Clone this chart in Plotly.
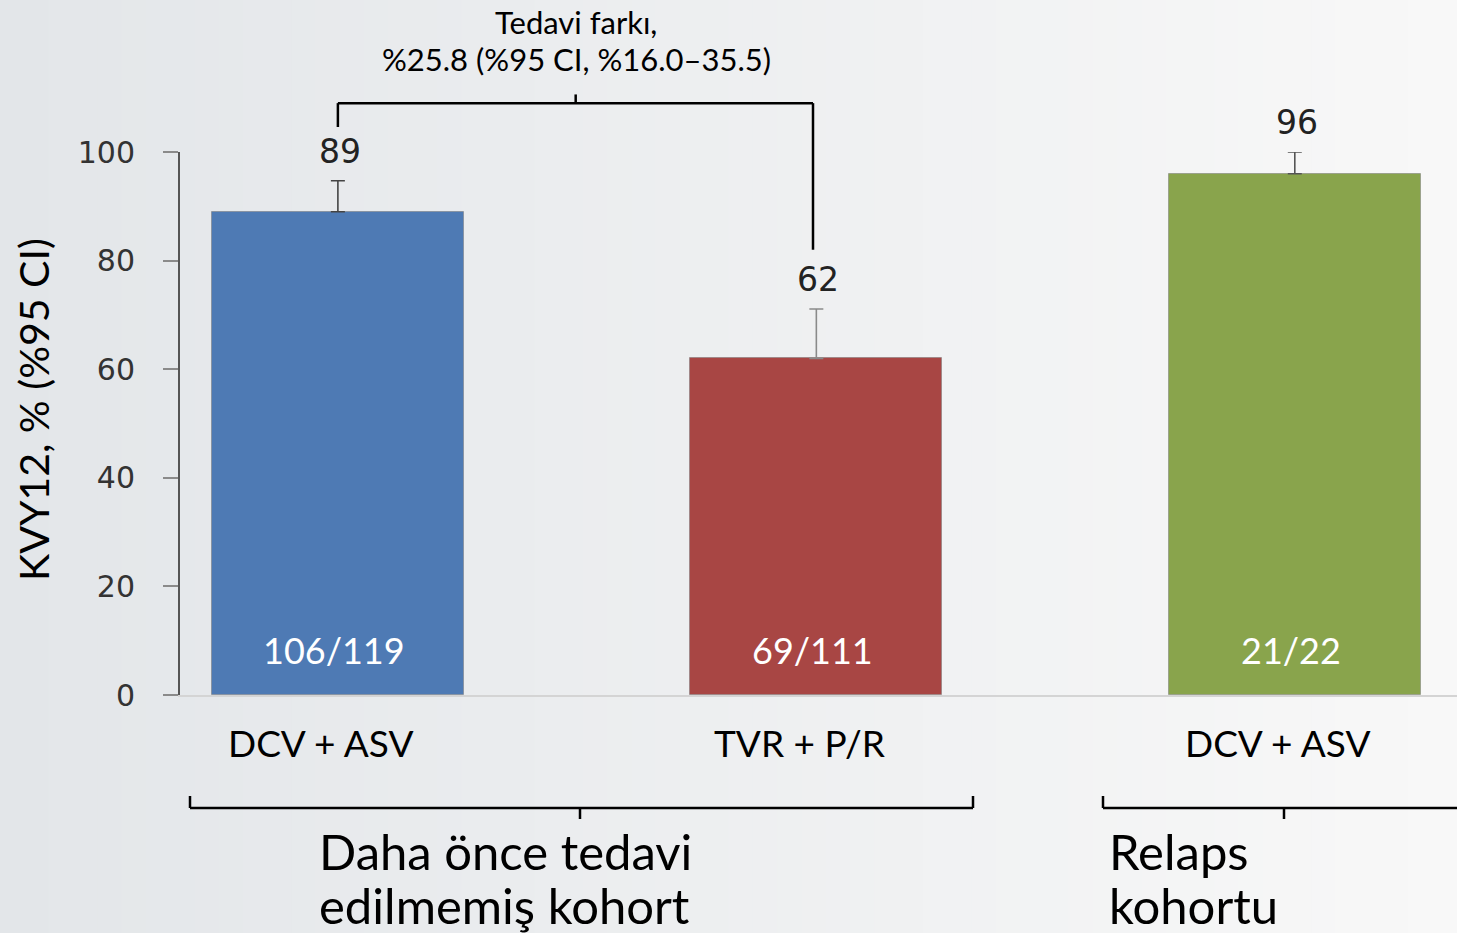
import plotly.graph_objects as go

# ---------------- data ----------------
groups = ["DCV + ASV", "TVR + P/R", "DCV + ASV"]
svr12 = [89, 62, 96]
ci_upper = [94.7, 71.1, 100.0]
counts = ["106/119", "69/111", "21/22"]
bar_colors = ["#4E7AB4", "#A84644", "#89A44C"]
err_colors = ["#444444", "#8a8a8a", "#555555"]
y_ticks = [0, 20, 40, 60, 80, 100]
diff_title = ["Tedavi farkı,", "%25.8 (%95 CI, %16.0–35.5)"]
cohorts = [["Daha önce tedavi", "edilmemiş kohort"], ["Relaps", "kohortu"]]

W, H = 1457, 933
L, R, T, B = 180, 0, 152, 238
X_RANGE = [-0.330, 2.339]
Y_RANGE = [0, 100]
PW, PH = W - L - R, H - T - B


def px(xpix):
    return (xpix - L) / PW


def py(ypix):
    return (H - B - ypix) / PH


def dx(x):
    return (x - X_RANGE[0]) / (X_RANGE[1] - X_RANGE[0])


def dy(y):
    return (y - Y_RANGE[0]) / (Y_RANGE[1] - Y_RANGE[0])


xpos = list(range(len(svr12)))
fig = go.Figure()

for i in xpos:
    fig.add_trace(go.Bar(
        x=[i], y=[svr12[i]], width=0.527,
        marker=dict(color=bar_colors[i], line=dict(color="rgba(120,120,120,0.5)", width=1)),
        error_y=dict(type="data", symmetric=False,
                     array=[ci_upper[i] - svr12[i]], arrayminus=[0],
                     color=err_colors[i], thickness=1.6, width=7),
        showlegend=False, hoverinfo="skip",
    ))

shapes = []
# gradient background
n = 60
c0, c1 = (227, 230, 233), (248, 248, 248)
for k in range(n):
    t = k / (n - 1)
    col = tuple(round(c0[j] + (c1[j] - c0[j]) * t) for j in range(3))
    shapes.append(dict(type="rect", xref="paper", yref="paper", layer="below",
                       x0=px(k * W / n), x1=px((k + 1) * W / n + 1),
                       y0=py(H), y1=py(0), line=dict(width=0),
                       fillcolor="rgb(%d,%d,%d)" % col))

line_style = dict(color="black", width=2.5)
# top comparison bracket
ytop = dy(109.0)
shapes += [
    dict(type="line", xref="paper", yref="paper", x0=dx(0), x1=dx(0.993), y0=ytop, y1=ytop, line=line_style),
    dict(type="line", xref="paper", yref="paper", x0=dx(0), x1=dx(0), y0=ytop, y1=dy(104.6), line=line_style),
    dict(type="line", xref="paper", yref="paper", x0=dx(0.993), x1=dx(0.993), y0=ytop, y1=dy(82.0), line=line_style),
    dict(type="line", xref="paper", yref="paper", x0=dx(0.497), x1=dx(0.497), y0=ytop, y1=dy(110.6), line=line_style),
]
# bottom cohort brackets
yb = py(808)
for (a, b_, c) in [(190, 973, 580), (1103, 1460, 1284)]:
    shapes.append(dict(type="line", xref="paper", yref="paper", x0=px(a), x1=px(b_), y0=yb, y1=yb, line=line_style))
    shapes.append(dict(type="line", xref="paper", yref="paper", x0=px(a), x1=px(a), y0=yb, y1=py(796), line=line_style))
    shapes.append(dict(type="line", xref="paper", yref="paper", x0=px(c), x1=px(c), y0=yb, y1=py(819), line=line_style))
    if b_ < W:
        shapes.append(dict(type="line", xref="paper", yref="paper", x0=px(b_), x1=px(b_), y0=yb, y1=py(796), line=line_style))

ann = []
main_font = "Lato, 'Noto Sans', sans-serif"
num_font = "'DejaVu Sans', Verdana, sans-serif"
for i in xpos:
    ann.append(dict(x=i, y=ci_upper[i], xref="x", yref="y", text=str(svr12[i]),
                    showarrow=False, yanchor="bottom", yshift=8, xshift=2,
                    font=dict(family=num_font, size=33, color="#222222")))
    ann.append(dict(x=i, y=0, xref="x", yref="y", text=counts[i],
                    showarrow=False, yanchor="middle", yshift=45, xshift=-4,
                    font=dict(family=main_font, size=36, color="white")))
    ann.append(dict(x=i, y=py(742), xref="x", yref="paper", text=groups[i],
                    showarrow=False, yanchor="middle", xshift=-17,
                    font=dict(family=main_font, size=37, color="black")))

for k, line in enumerate(diff_title):
    ann.append(dict(x=px(576), y=py(22 + 37 * k), xref="paper", yref="paper", text=line,
                    showarrow=False, yanchor="middle", xanchor="center",
                    font=dict(family=main_font, size=31, color="black")))

for (xl, lines) in [(317, cohorts[0]), (1107, cohorts[1])]:
    for k, line in enumerate(lines):
        ann.append(dict(x=px(xl), y=py(851 + 54 * k), xref="paper", yref="paper", text=line,
                        showarrow=False, yanchor="middle", xanchor="left",
                        font=dict(family=main_font, size=49, color="black")))

ann.append(dict(x=px(33), y=py(410), xref="paper", yref="paper", text="KVY12, % (%95 CI)",
                showarrow=False, textangle=-90, xanchor="center", yanchor="middle",
                font=dict(family=main_font, size=41, color="black")))

fig.update_layout(
    width=W, height=H, autosize=False,
    margin=dict(l=L, r=R, t=T, b=B, pad=0),
    paper_bgcolor="rgba(0,0,0,0)", plot_bgcolor="rgba(0,0,0,0)",
    barmode="overlay", bargap=0,
    shapes=shapes, annotations=ann,
    xaxis=dict(range=X_RANGE, showticklabels=False, ticks="", showgrid=False,
               zeroline=False, showline=True, linecolor="#d4d4d4", linewidth=2),
    yaxis=dict(range=Y_RANGE, tickvals=y_ticks, ticks="outside", ticklen=15,
               tickcolor="#8a8a8a", tickwidth=1.5, showgrid=False, zeroline=False,
               showline=True, linecolor="#555555", linewidth=2,
               ticklabelstandoff=22,
               tickfont=dict(family=num_font, size=30, color="#333333")),
)

fig.write_html("out.html", config={"displayModeBar": False},
               post_script="document.body.style.margin='0';document.body.style.overflow='hidden';")
